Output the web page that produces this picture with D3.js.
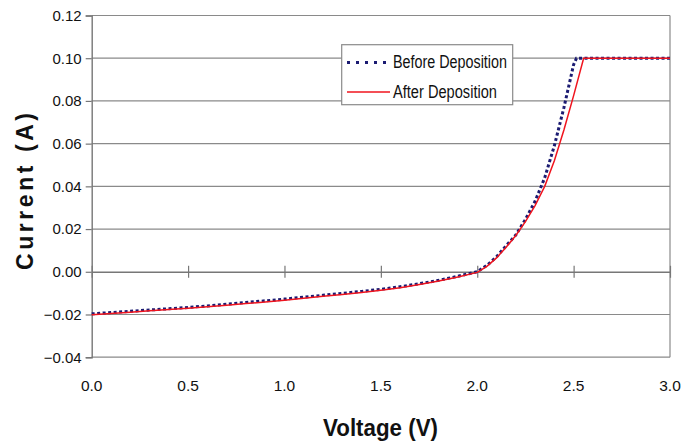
<!DOCTYPE html>
<html>
<head>
<meta charset="utf-8">
<script src="https://cdn.jsdelivr.net/npm/d3@7"></script>
<style>
    body { margin: 0; background: white; }
    text { font-family: "Liberation Sans", Arial, sans-serif; fill: #111; }
</style>
</head>
<body>
<script>
"use strict";

// tension (V)
var voltsBefore = [0, 0.1, 0.2, 0.3, 0.4, 0.5, 0.6, 0.7, 0.8, 0.9, 1.0, 1.1, 1.2, 1.3, 1.4, 1.5, 1.6, 1.7, 1.8, 1.9, 2.0,
    2.05, 2.1, 2.15, 2.2, 2.25, 2.3, 2.35, 2.4, 2.45, 2.5, 2.515, 2.6, 2.7, 2.8, 2.9, 3.0];
var currentBefore = [-0.0197, -0.0191, -0.0185, -0.0179, -0.0173, -0.0167, -0.0160, -0.0152, -0.0144, -0.0136, -0.0128,
    -0.0119, -0.0110, -0.0101, -0.0092, -0.0082, -0.0070, -0.0056, -0.0040, -0.0021, 0.0000,
    0.0030, 0.0070, 0.0122, 0.0172, 0.0245, 0.0330, 0.0440, 0.0590, 0.0770, 0.0970, 0.1000, 0.1000, 0.1000, 0.1000, 0.1000, 0.1000];

var voltsAfter = [0, 0.1, 0.2, 0.3, 0.4, 0.5, 0.6, 0.7, 0.8, 0.9, 1.0, 1.1, 1.2, 1.3, 1.4, 1.5, 1.6, 1.7, 1.8, 1.9, 2.0,
    2.05, 2.1, 2.15, 2.2, 2.25, 2.3, 2.35, 2.4, 2.45, 2.5, 2.552, 2.6, 2.7, 2.8, 2.9, 3.0];
var currentAfter = [-0.0201, -0.0195, -0.0189, -0.0183, -0.0177, -0.0171, -0.0164, -0.0157, -0.0149, -0.0141, -0.0133,
    -0.0124, -0.0115, -0.0106, -0.0097, -0.0087, -0.0075, -0.0060, -0.0043, -0.0024, -0.0003,
    0.0025, 0.0065, 0.0115, 0.0170, 0.0235, 0.0310, 0.0400, 0.0520, 0.0665, 0.0825, 0.1000, 0.1000, 0.1000, 0.1000, 0.1000, 0.1000];

var xTicks = [0, 0.5, 1.0, 1.5, 2.0, 2.5, 3.0];
var yTicks = [-0.04, -0.02, 0.00, 0.02, 0.04, 0.06, 0.08, 0.10, 0.12];
var seriesNames = ["Before Deposition", "After Deposition"];

var widthEcran = 695, heightEcran = 447;

function baseCanvas(w, h) {
    return d3.select("body").append("svg")
        .attr("width", w)
        .attr("height", h);
}

var canvas = baseCanvas(widthEcran, heightEcran);

var x = d3.scaleLinear().domain([0, 3]).range([91.7, 670]);
var y = d3.scaleLinear().domain([-0.04, 0.12]).range([357.2, 15.5]);

// grille horizontale
canvas.selectAll(".grid")
    .data(yTicks.filter(function (d) { return d !== 0; }))
    .enter().append("line")
    .attr("x1", x(0)).attr("x2", x(3))
    .attr("y1", function (d) { return y(d); })
    .attr("y2", function (d) { return y(d); })
    .attr("stroke", "#8a8a8a")
    .attr("stroke-width", 1.2);

// bord droit
canvas.append("line")
    .attr("x1", x(3)).attr("x2", x(3))
    .attr("y1", y(0.12)).attr("y2", y(-0.04))
    .attr("stroke", "#8a8a8a")
    .attr("stroke-width", 1.2);

// axe Y
var yAxis = d3.axisLeft(y).tickValues(yTicks).tickSize(6).tickFormat(d3.format(".2f"));
var gy = canvas.append("g").attr("transform", "translate(" + x(0) + ",0)").call(yAxis);
gy.select(".domain").attr("stroke", "#777").attr("stroke-width", 1.4);
gy.selectAll(".tick line").attr("stroke", "#777").attr("stroke-width", 1.2);
gy.selectAll(".tick text")
    .attr("x", -10)
    .attr("font-size", 15)
    .attr("font-family", "Liberation Sans, Arial, sans-serif")
    .attr("fill", "#111");

// axe X au niveau 0 (ticks en croix)
var xAxis = d3.axisBottom(x).tickValues(xTicks).tickSize(0).tickFormat("");
var gx = canvas.append("g").attr("transform", "translate(0," + y(0) + ")").call(xAxis);
gx.select(".domain").attr("stroke", "#777").attr("stroke-width", 1.4);
gx.selectAll(".tick").append("line")
    .attr("y1", -6).attr("y2", 6)
    .attr("stroke", "#777").attr("stroke-width", 1.2);

// etiquettes X en bas
canvas.selectAll(".xlab")
    .data(xTicks)
    .enter().append("text")
    .attr("x", function (d) { return x(d); })
    .attr("y", 391)
    .attr("text-anchor", "middle")
    .attr("font-size", 15.5)
    .text(function (d) { return d3.format(".1f")(d); });

// courbes
var line = d3.line()
    .x(function (d) { return x(d[0]); })
    .y(function (d) { return y(d[1]); });

var ptsBefore = d3.zip(voltsBefore, currentBefore);
var ptsAfter = d3.zip(voltsAfter, currentAfter);

canvas.append("path")
    .datum(ptsBefore)
    .attr("d", line)
    .attr("fill", "none")
    .attr("stroke", "#1b1b72")
    .attr("stroke-width", 3)
    .attr("stroke-dasharray", "3,2.5");

canvas.append("path")
    .datum(ptsAfter)
    .attr("d", line)
    .attr("fill", "none")
    .attr("stroke", "#f0141e")
    .attr("stroke-width", 1.5);

// legende
var leg = canvas.append("g");
leg.append("rect")
    .attr("x", 341.7).attr("y", 44.7)
    .attr("width", 171).attr("height", 60)
    .attr("fill", "white")
    .attr("stroke", "#8a8a8a")
    .attr("stroke-width", 1.2);
leg.append("line")
    .attr("x1", 347).attr("x2", 390).attr("y1", 62.5).attr("y2", 62.5)
    .attr("stroke", "#1b1b72").attr("stroke-width", 3).attr("stroke-dasharray", "3,6");
leg.append("line")
    .attr("x1", 347).attr("x2", 390).attr("y1", 92).attr("y2", 92)
    .attr("stroke", "#f0141e").attr("stroke-width", 1.5);
leg.selectAll(".legtxt")
    .data(seriesNames)
    .enter().append("text")
    .attr("x", 393)
    .attr("y", function (d, i) { return 67.5 + i * 30; })
    .attr("font-size", 18)
    .attr("textLength", function (d, i) { return i === 0 ? 114 : 104; })
    .attr("lengthAdjust", "spacingAndGlyphs")
    .text(function (d) { return d; });

// titres des axes
canvas.append("text")
    .attr("x", 380.5).attr("y", 436)
    .attr("text-anchor", "middle")
    .attr("font-size", 24)
    .attr("font-weight", "bold")
    .attr("textLength", 115)
    .attr("lengthAdjust", "spacingAndGlyphs")
    .text("Voltage (V)");

canvas.append("text")
    .attr("transform", "translate(33,191.5) rotate(-90)")
    .attr("text-anchor", "middle")
    .attr("font-size", 23)
    .attr("font-weight", "bold")
    .attr("textLength", 157)
    .text("Current (A)");
</script>
</body>
</html>
